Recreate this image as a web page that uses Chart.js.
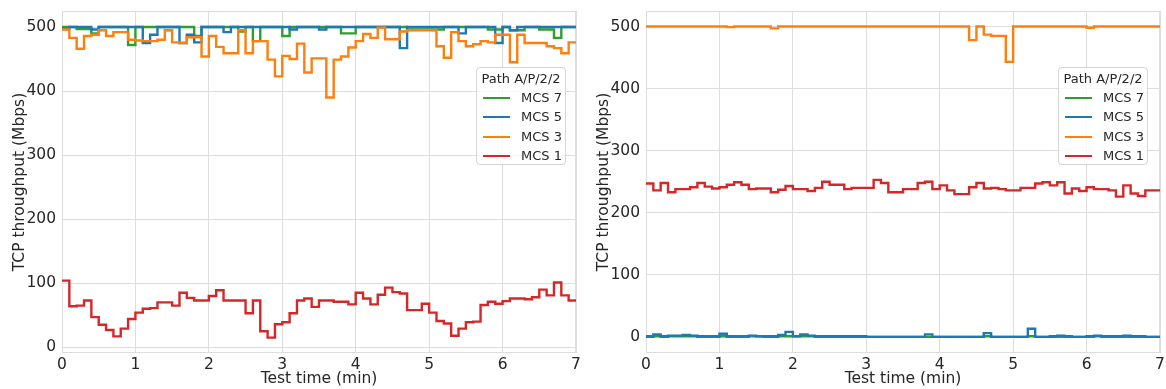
<!DOCTYPE html>
<html>
<head>
<meta charset="utf-8">
<script src="https://cdn.jsdelivr.net/npm/chart.js@4"></script>
<style>
  body { margin: 0; background: #fff; width: 1166px; height: 389px; overflow: hidden; position: relative;
         font-family: "DejaVu Sans", sans-serif; color: #262626; }
  canvas { position: absolute; top: 0; }
  .legend { position: absolute; top: 67px; width: 90px; height: 98px; box-sizing: border-box;
            border: 1px solid #d6d6d6; border-radius: 4px; background: rgba(255,255,255,0.8); font-size: 13px; }
  .legend .ttl { position: absolute; top: 3px; left: 0; width: 100%; text-align: center; line-height: 16px; }
  .legend .row { position: absolute; left: 0; width: 100%; height: 16px; line-height: 16px; }
  .legend .swatch { position: absolute; left: 6px; top: 7px; width: 27px; height: 2px; }
  .legend .lbl { position: absolute; left: 44px; top: 0; }
</style>
</head>
<body>
<canvas id="left" width="583" height="389" style="left:0"></canvas>
<canvas id="right" width="583" height="389" style="left:583px"></canvas>
<div class="legend" id="legLeft" style="left:476px"></div>
<div class="legend" id="legRight" style="left:1058px"></div>
<script>
// sample times (min)
const timeMin = [0,0.1,0.2,0.3,0.4,0.5,0.6,0.7,0.8,0.9,1,1.1,1.2,1.3,1.4,1.5,1.6,1.7,1.8,1.9,
  2,2.1,2.2,2.3,2.4,2.5,2.6,2.7,2.8,2.9,3,3.1,3.2,3.3,3.4,3.5,3.6,3.7,3.8,3.9,
  4,4.1,4.2,4.3,4.4,4.5,4.6,4.7,4.8,4.9,5,5.1,5.2,5.3,5.4,5.5,5.6,5.7,5.8,5.9,
  6,6.1,6.2,6.3,6.4,6.5,6.6,6.7,6.8,6.9,7];

const xTicks = [0,1,2,3,4,5,6,7];
const yTicks = [0,100,200,300,400,500];
const legendTitle = 'Path A/P/2/2';
const seriesNames = ['MCS 7', 'MCS 5', 'MCS 3', 'MCS 1'];

// left panel (Mbps)
const leftMcs7 = [500,500,497,497,490,500,500,500,500,472, 500,500,500,500,500,500,500,500,486,500,
  500,500,500,500,493,500,478,500,500,500, 486,500,500,500,500,500,500,500,490,490,
  500,500,500,500,500,500,500,496,496,496, 496,496,500,500,500,500,500,500,496,496,
  500,495,495,500,500,496,496,483,500,500, 500];
const leftMcs5 = [497,500,500,500,496,500,500,500,500,500, 500,475,488,500,500,500,475,488,476,500,
  500,500,492,500,500,500,500,500,500,500, 500,496,500,500,500,496,500,500,500,500,
  500,500,500,500,500,500,467,500,500,500, 500,500,500,500,490,500,500,500,500,475,
  500,495,500,500,500,500,500,500,500,500, 500];
const leftMcs3 = [496,483,466,486,488,495,486,492,492,480, 479,478,478,480,495,476,475,484,484,454,
  486,469,459,459,495,459,478,478,449,423, 455,450,474,429,451,451,390,449,454,468,
  478,489,483,499,481,481,493,495,495,495, 495,470,452,492,478,470,473,478,476,488,
  488,445,488,475,475,475,470,467,459,476, 476];
const leftMcs1 = [104,64,65,73,47,35,27,17,29,44, 54,60,61,70,70,65,85,77,73,73,
  80,89,73,73,73,53,73,25,15,36, 39,53,73,76,63,73,73,71,71,67,
  85,76,67,82,93,86,84,58,58,68, 54,41,37,18,29,39,40,66,71,68,
  72,76,76,75,78,90,81,101,81,73, 73];

// right panel (Mbps)
const rightMcs7 = [0,1,0,1,1,1,1,0,0,0, 1,0,0,0,1,1,0,0,1,1,
  1,1,1,0,0,0,0,0,0,0, 0,0,0,0,0,0,0,0,0,0,
  0,0,0,0,0,0,1,0,0,0, 0,0,1,0,0,0,0,0,0,0,
  0,1,0,0,0,0,0,0,0,0, 0];
const rightMcs5 = [1,4,1,2,2,3,2,1,1,1, 5,1,1,1,2,1,1,1,3,8,
  1,4,2,1,1,1,1,1,1,1, 0,0,0,0,0,0,0,0,4,0,
  0,0,0,0,0,0,6,0,0,0, 0,0,13,0,0,1,2,1,0,0,
  1,2,1,1,1,2,1,1,0,0, 0];
const rightMcs3 = [500,500,500,500,500,500,500,500,500,500, 500,499,500,500,500,500,500,497,500,500,
  500,500,500,500,500,500,500,500,500,500, 500,500,500,500,500,500,500,500,500,500,
  500,500,500,500,478,500,487,485,485,443, 500,500,500,500,500,500,500,500,500,500,
  498,500,500,500,500,500,500,500,500,500, 500];
const rightMcs1 = [247,236,248,233,238,238,241,248,242,239, 241,245,249,245,238,239,239,233,237,243,
  238,238,235,240,250,245,245,238,240,240, 240,253,248,233,233,238,238,248,250,238,
  244,236,230,230,241,248,239,240,238,236, 236,240,240,247,249,244,249,231,239,235,
  241,238,238,236,226,244,231,227,236,236, 236];

const colors = { 'MCS 7': '#2ca02c', 'MCS 5': '#1f77b4', 'MCS 3': '#ff7f0e', 'MCS 1': '#d62728' };
const textColor = '#262626';
const gridColor = '#dddddd';
const axisFont = { family: 'DejaVu Sans', size: 15.5 };

function toPoints(values) {
  return values.map((v, i) => ({ x: timeMin[i], y: v }));
}

// frame around the plot area (all four spines)
const framePlugin = {
  id: 'frame',
  beforeDatasetsDraw(chart) {
    const { ctx, chartArea: a } = chart;
    ctx.save();
    ctx.strokeStyle = gridColor;
    ctx.lineWidth = 1;
    ctx.strokeRect(Math.round(a.left) + 0.5, Math.round(a.top) + 0.5,
      Math.round(a.right - a.left) - 1, Math.round(a.bottom - a.top) - 1);
    ctx.restore();
  }
};

function makeChart(id, seriesByName, yMin, yMax, padding) {
  // MCS 1 drawn on top, legend keeps MCS 7 first
  const drawOrder = ['MCS 1', 'MCS 3', 'MCS 5', 'MCS 7'];
  const datasets = drawOrder.map(name => ({
    label: name,
    data: toPoints(seriesByName[name]),
    borderColor: colors[name],
    backgroundColor: colors[name],
    borderWidth: 2.4,
    pointRadius: 0,
    stepped: 'before',
    fill: false
  }));
  return new Chart(document.getElementById(id), {
    type: 'line',
    data: { datasets },
    plugins: [framePlugin],
    options: {
      responsive: false,
      animation: false,
      devicePixelRatio: 1,
      layout: { padding },
      plugins: { legend: { display: false }, tooltip: { enabled: false } },
      scales: {
        x: {
          type: 'linear', min: 0, max: 7,
          afterBuildTicks: s => { s.ticks = xTicks.map(v => ({ value: v })); },
          afterFit: s => { s.height = 36; s.paddingLeft = 0; s.paddingRight = 0; },
          grid: { color: gridColor, drawTicks: false },
          border: { display: false },
          ticks: { padding: 3, color: textColor, font: axisFont },
          title: { display: true, text: 'Test time (min)', color: textColor,
                   font: axisFont, padding: { top: 0, bottom: 1 } }
        },
        y: {
          type: 'linear', min: yMin, max: yMax,
          afterBuildTicks: s => { s.ticks = yTicks.map(v => ({ value: v })); },
          afterFit: s => { s.width = 62; s.paddingTop = 0; s.paddingBottom = 0; },
          grid: { color: gridColor, drawTicks: false },
          border: { display: false },
          ticks: { padding: 6, color: textColor, font: axisFont },
          title: { display: true, text: 'TCP throughput (Mbps)', color: textColor,
                   font: axisFont, padding: { top: 11, bottom: 0 } }
        }
      }
    }
  });
}

makeChart('left', { 'MCS 7': leftMcs7, 'MCS 5': leftMcs5, 'MCS 3': leftMcs3, 'MCS 1': leftMcs1 },
  -9, 525, { top: 11, right: 7, left: 0, bottom: 0 });
makeChart('right', { 'MCS 7': rightMcs7, 'MCS 5': rightMcs5, 'MCS 3': rightMcs3, 'MCS 1': rightMcs1 },
  -26, 525, { top: 11, right: 6, left: 1, bottom: 0 });

function buildLegend(id) {
  const box = document.getElementById(id);
  const t = document.createElement('div');
  t.className = 'ttl';
  t.textContent = legendTitle;
  box.appendChild(t);
  seriesNames.forEach((name, i) => {
    const row = document.createElement('div');
    row.className = 'row';
    row.style.top = (22 + i * 19.3) + 'px';
    const sw = document.createElement('div');
    sw.className = 'swatch';
    sw.style.background = colors[name];
    const lb = document.createElement('div');
    lb.className = 'lbl';
    lb.textContent = name;
    row.appendChild(sw);
    row.appendChild(lb);
    box.appendChild(row);
  });
}
buildLegend('legLeft');
buildLegend('legRight');
</script>
</body>
</html>
